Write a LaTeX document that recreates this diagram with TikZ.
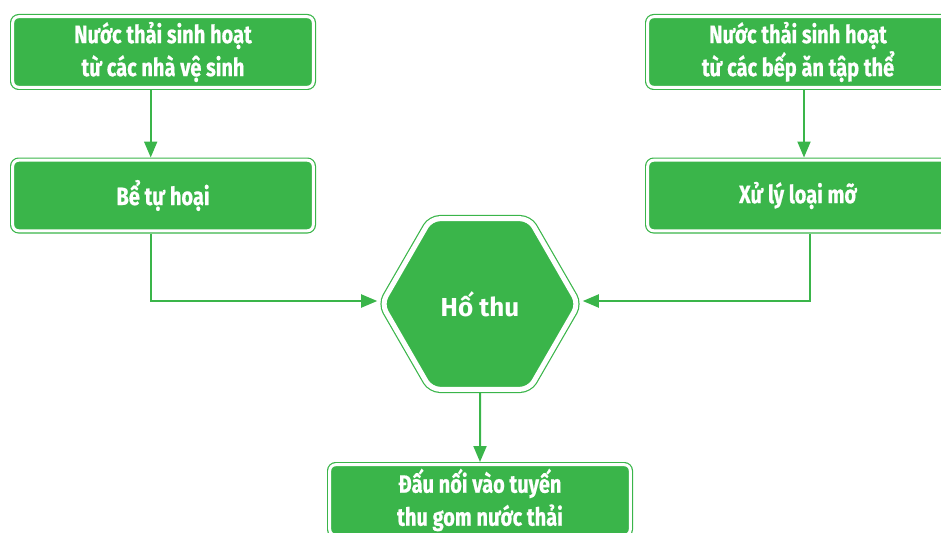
\documentclass[tikz,border=0pt]{standalone}
\usepackage{fontspec}
\setmainfont{Fira Sans}
\newfontfamily\narrowfont{Fira Sans}[FakeStretch=0.8,BoldFeatures={FakeBold=0.6}]
\usetikzlibrary{shapes.geometric,arrows.meta}
\definecolor{leafgreen}{HTML}{3AB54A}

\begin{document}
\begin{tikzpicture}[x=1pt,y=-1pt,
  stage/.style={draw=leafgreen,double=white,line width=1.2pt,double distance=3pt,
    fill=leafgreen,rounded corners=6pt,minimum width=300.6pt,minimum height=70.6pt,
    inner sep=0pt,outer sep=2.7pt,align=center,text=white,
    font=\narrowfont\bfseries\fontsize{25}{33}\selectfont},
  pit/.style={regular polygon,regular polygon sides=6,draw=leafgreen,double=white,
    line width=1.2pt,double distance=5pt,fill=leafgreen,rounded corners=9pt,
    minimum size=197pt,inner sep=0pt,outer sep=3.7pt,text=white,
    font=\bfseries\fontsize{26}{30}\selectfont},
  flow/.style={draw=leafgreen,line width=2pt,-{Triangle[length=16pt,width=13pt]}}]
\useasboundingbox (0,0) rectangle (941,532);

% left branch
\node[stage] (toilet) at (163,52) {Nước thải sinh hoạt\\từ các nhà vệ sinh};
\node[stage] (septic) at (163,195.5) {Bể tự hoại};

% right branch
\node[stage] (kitchen) at (798,52) {Nước thải sinh hoạt\\từ các bếp ăn tập thể};
\node[stage] (grease) at (798,195.5) {Xử lý loại mỡ};

\node[pit] (pit) at (480,304) {Hố thu};
\node[stage] (outlet) at (480,500) {Đấu nối vào tuyến\\thu gom nước thải};

\draw[flow] ([xshift=-12.3pt]toilet.south) -- ([xshift=-12.3pt]septic.north);
\draw[flow] ([xshift=6pt]kitchen.south) -- ([xshift=6pt]grease.north);
\draw[flow] ([xshift=-12.3pt]septic.south) |- ([yshift=3pt]pit.west);
\draw[flow] ([xshift=12pt]grease.south) |- ([yshift=3pt]pit.east);
\draw[flow] (pit.south) -- (outlet.north);
\end{tikzpicture}
\end{document}
